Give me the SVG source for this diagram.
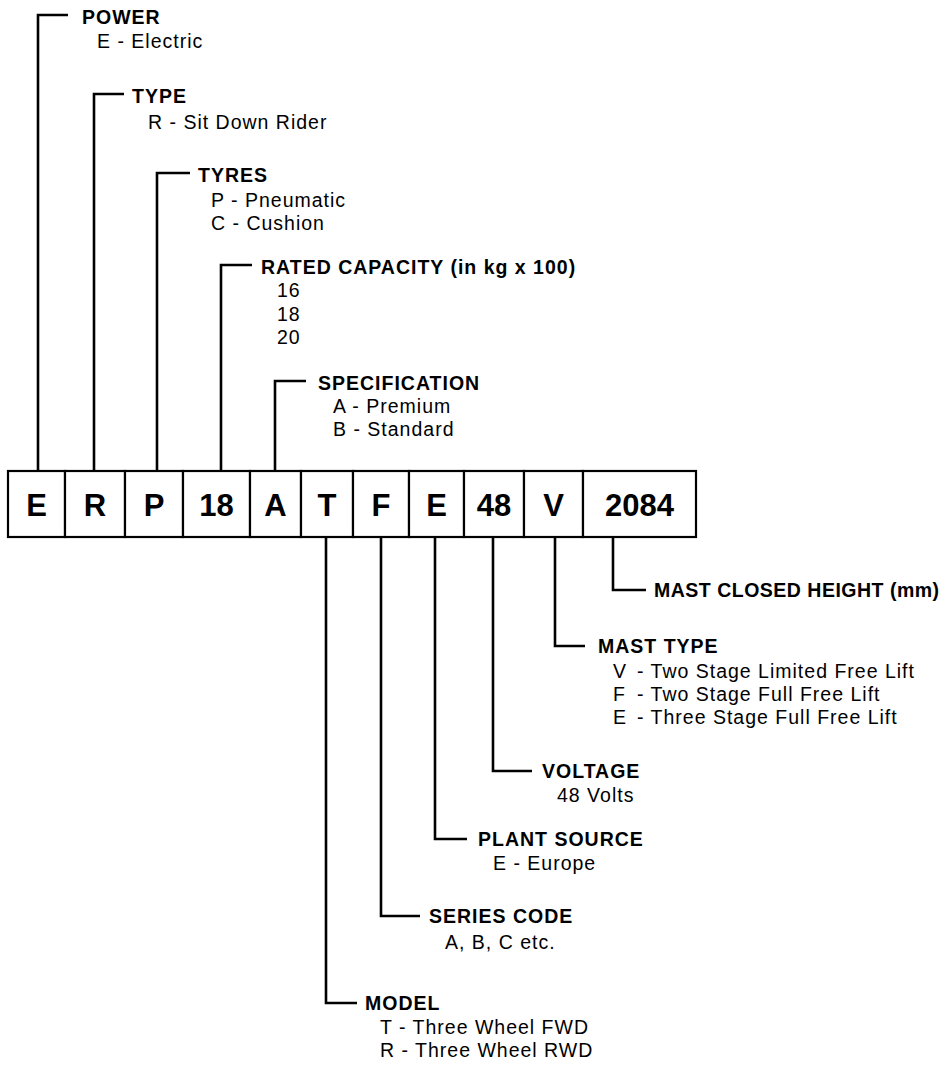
<svg xmlns="http://www.w3.org/2000/svg" width="948" height="1067" viewBox="0 0 948 1067">
<style>
  .bg { fill: #ffffff; }
  .box { fill: #ffffff; stroke: #000000; stroke-width: 2.2; }
  .code { font-family: "Liberation Sans", Arial, Helvetica, sans-serif; font-weight: bold; font-size: 31px; fill: #000000; text-anchor: middle; }
  .title { font-family: "Liberation Sans", Arial, Helvetica, sans-serif; font-weight: bold; font-size: 19.5px; letter-spacing: 1px; fill: #000000; }
  .tight { letter-spacing: 0.5px; }
  .val { font-family: "Liberation Sans", Arial, Helvetica, sans-serif; font-size: 19.5px; letter-spacing: 1px; fill: #000000; }
  .conn { fill: none; stroke: #000000; stroke-width: 2.6; stroke-linejoin: miter; }
</style>
<rect class="bg" x="0" y="0" width="948" height="1067"/>

<g id="connectors">
  <polyline class="conn" points="38,471 38,15 68,15"/>
  <polyline class="conn" points="94,471 94,94 124,94"/>
  <polyline class="conn" points="157,471 157,173 190,173"/>
  <polyline class="conn" points="221,471 221,265 252,265"/>
  <polyline class="conn" points="275,471 275,381 306,381"/>
  <polyline class="conn" points="326,537 326,1003 357,1003"/>
  <polyline class="conn" points="381,537 381,916 420,916"/>
  <polyline class="conn" points="435,537 435,839 467,839"/>
  <polyline class="conn" points="493,537 493,771 532,771"/>
  <polyline class="conn" points="555,537 555,646 585,646"/>
  <polyline class="conn" points="613,537 613,590 646,590"/>
</g>

<g id="code-E"><rect class="box" x="8" y="471" width="57" height="66"/><text class="code" x="36.5" y="516">E</text></g>
<g id="code-R"><rect class="box" x="65" y="471" width="60" height="66"/><text class="code" x="95" y="516">R</text></g>
<g id="code-P"><rect class="box" x="125" y="471" width="58" height="66"/><text class="code" x="154" y="516">P</text></g>
<g id="code-18"><rect class="box" x="183" y="471" width="67" height="66"/><text class="code" x="216.5" y="516">18</text></g>
<g id="code-A"><rect class="box" x="250" y="471" width="51" height="66"/><text class="code" x="275.5" y="516">A</text></g>
<g id="code-T"><rect class="box" x="301" y="471" width="52" height="66"/><text class="code" x="327" y="516">T</text></g>
<g id="code-F"><rect class="box" x="353" y="471" width="56" height="66"/><text class="code" x="381" y="516">F</text></g>
<g id="code-E2"><rect class="box" x="409" y="471" width="55" height="66"/><text class="code" x="436.5" y="516">E</text></g>
<g id="code-48"><rect class="box" x="464" y="471" width="60" height="66"/><text class="code" x="494" y="516">48</text></g>
<g id="code-V"><rect class="box" x="524" y="471" width="59" height="66"/><text class="code" x="553.5" y="516">V</text></g>
<g id="code-2084"><rect class="box" x="583" y="471" width="113" height="66"/><text class="code" x="639.5" y="516">2084</text></g>

<g id="label-power">
  <text class="title" x="82" y="24">POWER</text>
  <text class="val" x="97" y="48">E - Electric</text>
</g>
<g id="label-type">
  <text class="title" x="132" y="103">TYPE</text>
  <text class="val" x="148" y="129">R - Sit Down Rider</text>
</g>
<g id="label-tyres">
  <text class="title" x="198" y="182">TYRES</text>
  <text class="val" x="211" y="207">P - Pneumatic</text>
  <text class="val" x="211" y="230">C - Cushion</text>
</g>
<g id="label-capacity">
  <text class="title" x="261" y="274">RATED CAPACITY (in kg x 100)</text>
  <text class="val" x="277" y="297">16</text>
  <text class="val" x="277" y="321">18</text>
  <text class="val" x="277" y="344">20</text>
</g>
<g id="label-specification">
  <text class="title" x="318" y="390">SPECIFICATION</text>
  <text class="val" x="333" y="413">A - Premium</text>
  <text class="val" x="333" y="436">B - Standard</text>
</g>
<g id="label-mast-height">
  <text class="title tight" x="654" y="597">MAST CLOSED HEIGHT (mm)</text>
</g>
<g id="label-mast-type">
  <text class="title" x="598" y="653">MAST TYPE</text>
  <text class="val" x="613" y="678">V<tspan x="637">- Two Stage Limited Free Lift</tspan></text>
  <text class="val" x="613" y="701">F<tspan x="637">- Two Stage Full Free Lift</tspan></text>
  <text class="val" x="613" y="724">E<tspan x="637">- Three Stage Full Free Lift</tspan></text>
</g>
<g id="label-voltage">
  <text class="title" x="542" y="778">VOLTAGE</text>
  <text class="val" x="557" y="802">48 Volts</text>
</g>
<g id="label-plant">
  <text class="title" x="478" y="846">PLANT SOURCE</text>
  <text class="val" x="493" y="870">E - Europe</text>
</g>
<g id="label-series">
  <text class="title" x="429" y="923">SERIES CODE</text>
  <text class="val" x="445" y="949">A, B, C etc.</text>
</g>
<g id="label-model">
  <text class="title" x="365" y="1010">MODEL</text>
  <text class="val" x="380" y="1034">T - Three Wheel FWD</text>
  <text class="val" x="380" y="1057">R - Three Wheel RWD</text>
</g>
</svg>
